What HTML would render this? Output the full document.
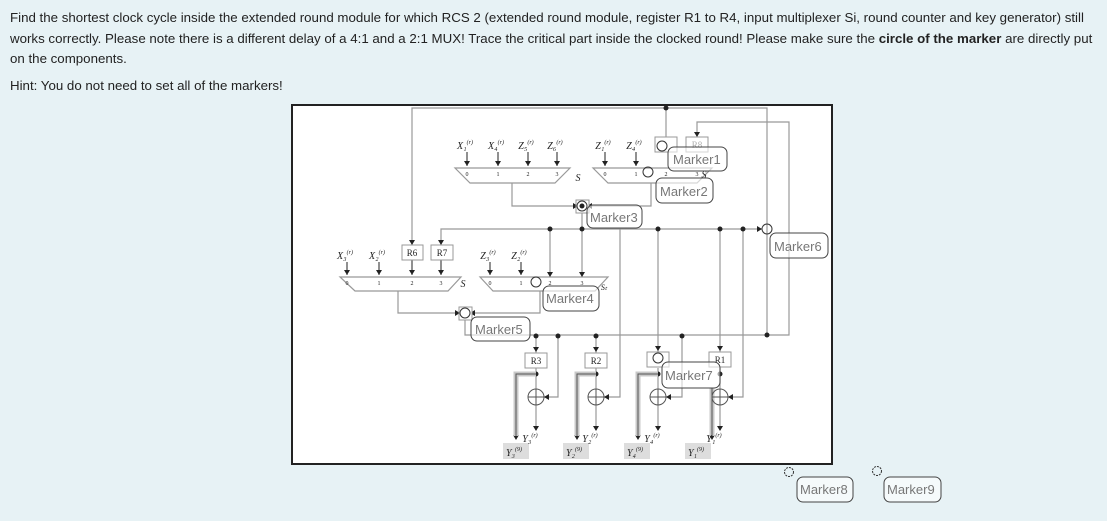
<!DOCTYPE html>
<html><head><meta charset="utf-8"><style>
body{margin:0;background:#e7f2f5;width:1107px;height:521px;overflow:hidden;font-family:"Liberation Sans",sans-serif;}
.t{position:absolute;left:10px;top:8px;width:1100px;font-size:13.3px;line-height:20.5px;color:#222;}
svg{position:absolute;left:0;top:0}
</style></head><body>
<div class="t">Find the shortest clock cycle inside the extended round module for which RCS 2 (extended round module, register R1 to R4, input multiplexer Si, round counter and key generator) still works correctly. Please note there is a different delay of a 4:1 and a 2:1 MUX! Trace the critical part inside the clocked round! Please make sure the <b>circle of the marker</b> are directly put on the components.<div style="margin-top:6px">Hint: You do not need to set all of the markers!</div></div>
<svg width="1107" height="521" font-family="Liberation Serif,serif">
<rect x="292" y="105" width="540" height="359" fill="#fff" stroke="#222" stroke-width="2"/>
<g stroke="#999" stroke-width="1.2" fill="none">
<path d="M412,245V108H767V335"/><path d="M697,137V122H789V335H767"/>
<path d="M666,108V145"/>
<path d="M455,168H570L555,183H470Z"/><path d="M593,168H712L697,183H608Z"/>
<path d="M512,183V206H578"/><path d="M651,183V206H587"/>
<path d="M582,211V229"/>
<path d="M441,245V229H762"/>
<path d="M340,277H461L448,291H355Z"/><path d="M480,277H608L595,291H493Z"/>
<path d="M398,291V313H460"/><path d="M540,291V313H470"/>
<path d="M465,318V335H767"/>
<path d="M550,229V277M582,229V277M620,229V397H604M658,229V352M720,229V352M743,229V397H728"/>
<path d="M536,335V353M558,335V397H544M596,335V353M682,335V397H666"/>
<path d="M536,368V389M596,368V389M658,368V389M720,368V389M536,405V430M596,405V430M658,405V430M720,405V430"/>
</g>
<g stroke="#222" stroke-width="1">
<path d="M467,152V166M498,152V166M528,152V166M557,152V166M605,152V166M636,152V166"/>
<path d="M347,262V275M379,262V275M412,260V275M441,260V275M490,262V275M521,262V275"/>
</g>
<path fill="#222" d="M464,161h6l-3,5zM495,161h6l-3,5zM525,161h6l-3,5zM554,161h6l-3,5zM602,161h6l-3,5zM633,161h6l-3,5zM663,140h6l-3,5zM694,132h6l-3,5zM344,270h6l-3,5zM376,270h6l-3,5zM409,270h6l-3,5zM438,270h6l-3,5zM487,270h6l-3,5zM518,270h6l-3,5zM409,240h6l-3,5zM438,240h6l-3,5zM547,272h6l-3,5zM579,272h6l-3,5zM533,347h6l-3,5zM593,347h6l-3,5zM655,346h6l-3,5zM717,346h6l-3,5zM533,426h6l-3,5zM593,426h6l-3,5zM655,426h6l-3,5zM717,426h6l-3,5zM513,435h6l-3,5zM574,435h6l-3,5zM635,435h6l-3,5zM709,435h6l-3,5zM455,310v6l5,-3zM757,226v6l5,-3zM573,203v6l5,-3zM549,394v6l-5,-3zM609,394v6l-5,-3zM671,394v6l-5,-3zM733,394v6l-5,-3zM592,203v6l-5,-3zM475,310v6l-5,-3z"/>
<g fill="#222"><circle cx="666" cy="108" r="2.5"/><circle cx="550" cy="229" r="2.5"/><circle cx="582" cy="229" r="2.5"/><circle cx="658" cy="229" r="2.5"/><circle cx="720" cy="229" r="2.5"/><circle cx="743" cy="229" r="2.5"/><circle cx="536" cy="336" r="2.5"/><circle cx="558" cy="336" r="2.5"/><circle cx="596" cy="336" r="2.5"/><circle cx="682" cy="336" r="2.5"/><circle cx="767" cy="335" r="2.5"/><circle cx="536" cy="374" r="2.5"/><circle cx="596" cy="374" r="2.5"/><circle cx="658" cy="374" r="2.5"/><circle cx="720" cy="374" r="2.5"/></g>
<g stroke="#c8c8c8" stroke-width="5" fill="none"><path d="M536,374H516V436M596,374H577V436M658,374H638V436M712,388V436"/></g>
<g stroke="#555" stroke-width="1" fill="none"><path d="M536,374H516V436M596,374H577V436M658,374H638V436M712,388V436"/>
<circle cx="536" cy="397" r="8"/><circle cx="596" cy="397" r="8"/><circle cx="658" cy="397" r="8"/><circle cx="720" cy="397" r="8"/>
<path d="M528,397h16M536,389v16M588,397h16M596,389v16M650,397h16M658,389v16M712,397h16M720,389v16"/></g>
<g fill="#ddd"><rect x="503" y="443" width="26" height="16"/><rect x="563" y="443" width="26" height="16"/><rect x="624" y="443" width="26" height="16"/><rect x="685" y="443" width="26" height="16"/></g>
<g fill="#fff" stroke="#999"><rect x="402" y="245" width="21" height="15"/><rect x="431" y="245" width="22" height="15"/><rect x="525" y="353" width="22" height="15"/><rect x="585" y="353" width="22" height="15"/><rect x="647" y="352" width="22" height="15"/><rect x="709" y="352" width="22" height="15"/><rect x="655" y="137" width="22" height="15"/><rect x="686" y="137" width="22" height="15"/><rect x="576" y="200" width="13" height="13"/><rect x="459" y="307" width="13" height="13"/></g>
<g font-size="9" fill="#222" text-anchor="middle">
<text x="412" y="256">R6</text><text x="442" y="256">R7</text><text x="536" y="364">R3</text><text x="596" y="364">R2</text><text x="720" y="363">R1</text><text x="697" y="148" fill="#aaa">R8</text>
<g font-size="6"><text x="467" y="176">0</text><text x="498" y="176">1</text><text x="528" y="176">2</text><text x="557" y="176">3</text><text x="605" y="176">0</text><text x="636" y="176">1</text><text x="666" y="176">2</text><text x="697" y="176">3</text><text x="347" y="285">0</text><text x="379" y="285">1</text><text x="412" y="285">2</text><text x="441" y="285">3</text><text x="490" y="285">0</text><text x="521" y="285">1</text><text x="550" y="285">2</text><text x="582" y="285">3</text></g>
<g font-style="italic" font-size="10"><text x="465" y="149">X₁<tspan font-size="6" dy="-5">(r)</tspan></text><text x="496" y="149">X₄<tspan font-size="6" dy="-5">(r)</tspan></text><text x="526" y="149">Z₅<tspan font-size="6" dy="-5">(r)</tspan></text><text x="555" y="149">Z₆<tspan font-size="6" dy="-5">(r)</tspan></text><text x="603" y="149">Z₁<tspan font-size="6" dy="-5">(r)</tspan></text><text x="634" y="149">Z₄<tspan font-size="6" dy="-5">(r)</tspan></text><text x="345" y="259">X₃<tspan font-size="6" dy="-5">(r)</tspan></text><text x="377" y="259">X₂<tspan font-size="6" dy="-5">(r)</tspan></text><text x="488" y="259">Z₃<tspan font-size="6" dy="-5">(r)</tspan></text><text x="519" y="259">Z₂<tspan font-size="6" dy="-5">(r)</tspan></text>
<text x="578" y="181">S</text><text x="463" y="287">S</text><text x="704" y="178">S</text><text x="604" y="290" font-size="8">Sₜ</text>
<text x="530" y="442">Y₃<tspan font-size="6" dy="-5">(r)</tspan></text><text x="590" y="442">Y₂<tspan font-size="6" dy="-5">(r)</tspan></text><text x="652" y="442">Y₄<tspan font-size="6" dy="-5">(r)</tspan></text><text x="714" y="442">Y₁<tspan font-size="6" dy="-5">(r)</tspan></text>
<text x="514" y="456">Y₃<tspan font-size="6" dy="-5">(9)</tspan></text><text x="574" y="456">Y₂<tspan font-size="6" dy="-5">(9)</tspan></text><text x="635" y="456">Y₄<tspan font-size="6" dy="-5">(9)</tspan></text><text x="696" y="456">Y₁<tspan font-size="6" dy="-5">(9)</tspan></text></g></g>
<g fill="none" stroke="#333"><circle cx="648" cy="172" r="5"/><circle cx="536" cy="282" r="5"/><circle cx="582" cy="206" r="5"/><circle cx="465" cy="313" r="5"/><circle cx="767" cy="229" r="5"/><circle cx="662" cy="146" r="5"/><circle cx="658" cy="358" r="5"/><circle cx="789" cy="472" r="4.5" stroke-dasharray="2,1"/><circle cx="877" cy="471" r="4.5" stroke-dasharray="2,1"/></g>
<circle cx="582" cy="206" r="2.5" fill="#222"/>
<g font-family="Liberation Sans,sans-serif" font-size="13" fill="#777">
<g fill="rgba(255,255,255,0.6)" stroke="#444"><rect x="668" y="147" width="59" height="24" rx="6"/><rect x="656" y="178" width="57" height="25" rx="6"/><rect x="587" y="205" width="55" height="23" rx="6"/><rect x="770" y="233" width="58" height="25" rx="6"/><rect x="543" y="286" width="56" height="25" rx="6"/><rect x="471" y="317" width="59" height="24" rx="6"/><rect x="662" y="362" width="58" height="26" rx="6"/><rect x="797" y="477" width="56" height="25" rx="6"/><rect x="884" y="477" width="57" height="25" rx="6"/></g>
<text x="673" y="164">Marker1</text><text x="660" y="196">Marker2</text><text x="590" y="222">Marker3</text><text x="774" y="251">Marker6</text><text x="546" y="303">Marker4</text><text x="475" y="334">Marker5</text><text x="665" y="380">Marker7</text><text x="800" y="494">Marker8</text><text x="887" y="494">Marker9</text></g>
</svg>
</body></html>
